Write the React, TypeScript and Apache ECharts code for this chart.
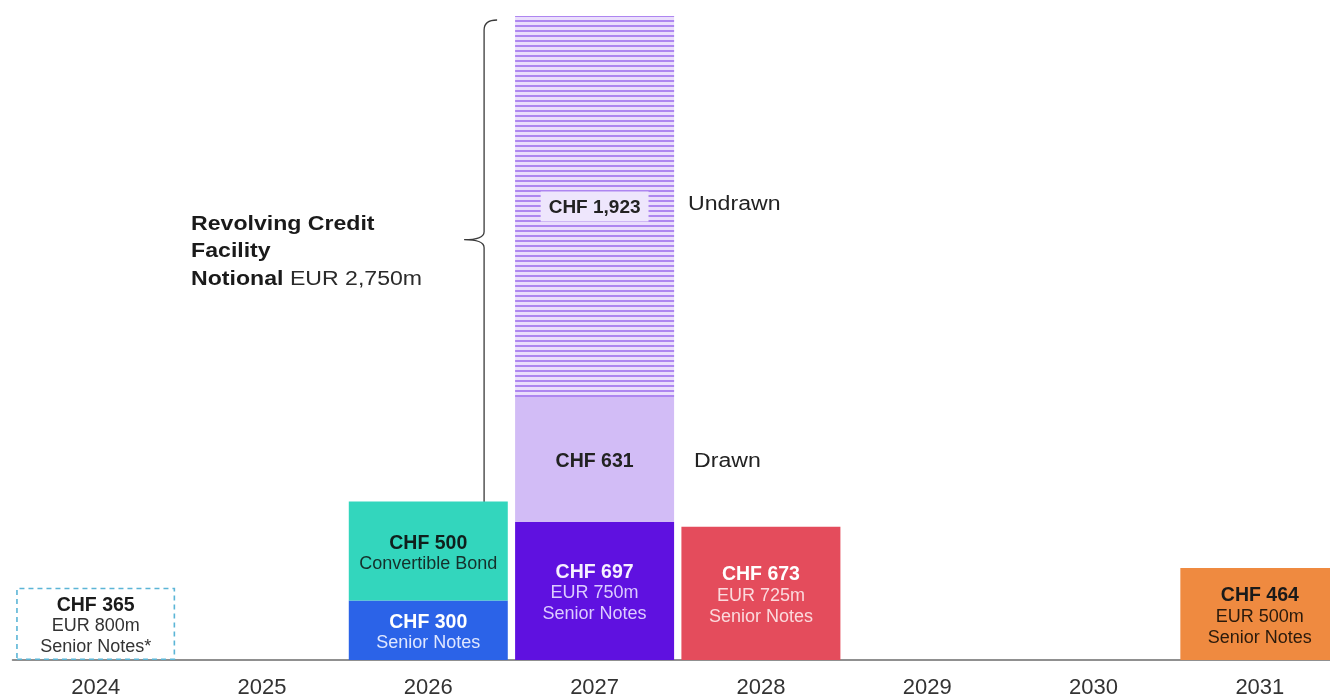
import React, { useEffect, useRef } from "react";
import * as echarts from "echarts";

const years = ["2024", "2025", "2026", "2027", "2028", "2029", "2030", "2031"];
const seniorNotes = [365, null, 300, 697, 673, null, null, 464];
const secondTier = [null, null, 500, 631, null, null, null, null];
const rcfUndrawn = [null, null, null, 1923, null, null, null, null];

const seniorColors = ["rgba(0,0,0,0)", null, "#2B63E8", "#5F11E0", "#E44C5C", null, null, "#EF8A40"];
const secondColors = [null, null, "#33D6BD", "#D2BCF6", null, null, null, null];

const seniorLabels = [
  ["CHF 365", "EUR 800m", "Senior Notes*"],
  null,
  ["CHF 300", "Senior Notes"],
  ["CHF 697", "EUR 750m", "Senior Notes"],
  ["CHF 673", "EUR 725m", "Senior Notes"],
  null,
  null,
  ["CHF 464", "EUR 500m", "Senior Notes"],
];
const seniorLabelColors = [
  ["#1a1a1a", "#333333"],
  null,
  ["#ffffff", "#dfe7ff"],
  ["#f6f0ff", "#dccbff"],
  ["#ffffff", "#fbdadd"],
  null,
  null,
  ["#1a1a1a", "#2a1a0c"],
];
const secondLabels = [null, null, ["CHF 500", "Convertible Bond"], ["CHF 631"], null, null, null, null];
const secondLabelColors = [null, null, ["#0f1f1c", "#15302b"], ["#222222", "#222222"], null, null, null, null];
const undrawnLabel = "CHF 1,923";
const rcfTitle = ["Revolving Credit", "Facility", "Notional", " EUR 2,750m"];
const sideLabels = ["Undrawn", "Drawn"];

const FONT = "'Liberation Sans', Arial, Helvetica, sans-serif";

function buildLabel(lines: string[] | null, colors: string[] | null) {
  if (!lines || !colors) return { show: false };
  const parts = lines.map((l, i) => (i === 0 ? `{a|${l}}` : `{b|${l}}`));
  return {
    show: true,
    position: "inside",
    offset: [0, 1],
    formatter: parts.join("\n"),
    rich: {
      a: { fontFamily: FONT, fontSize: 19.5, fontWeight: "bold", color: colors[0], lineHeight: 22 },
      b: { fontFamily: FONT, fontSize: 18, color: colors[1], lineHeight: 21 },
    },
  };
}

export default function App() {
  const ref = useRef<HTMLDivElement>(null);
  useEffect(() => {
    document.body.style.margin = "0";
    const el = ref.current!;
    const chart = echarts.init(el, null, { renderer: "svg" });
    const total = (seniorNotes[3] as number) + (secondTier[3] as number) + (rcfUndrawn[3] as number);
    const barW = 159;

    const seniorData = seniorNotes.map((v, i) => {
      if (v == null) return null;
      const item: any = {
        value: v,
        itemStyle: { color: seniorColors[i] },
        label: buildLabel(seniorLabels[i], seniorLabelColors[i]),
      };
      if (i === 0) {
        item.itemStyle = {
          color: "rgba(255,255,255,0)",
          borderColor: "#5BB5D6",
          borderWidth: 1.6,
          borderType: [5, 4],
        };
      }
      return item;
    });
    const secondData = secondTier.map((v, i) =>
      v == null
        ? null
        : { value: v, itemStyle: { color: secondColors[i] }, label: buildLabel(secondLabels[i], secondLabelColors[i]) }
    );
    const undrawnData = rcfUndrawn.map((v) =>
      v == null
        ? null
        : {
            value: v,
            itemStyle: {
              color: "#EADEFC",
              decal: {
                symbol: "rect",
                symbolSize: 1,
                color: "#AE86F0",
                dashArrayX: [1, 0],
                dashArrayY: [2, 3],
                rotation: 0,
              },
            },
            label: {
              show: true,
              position: "inside",
              formatter: undrawnLabel,
              fontFamily: FONT,
              fontSize: 19,
              fontWeight: "bold",
              color: "#222",
              backgroundColor: "#EEE6FC",
              padding: [6, 8, 5, 8],
            },
          }
    );

    const option: any = {
      animation: false,
      grid: { left: 12.5, right: 0, top: 16, bottom: 36 },
      xAxis: {
        type: "category",
        data: years,
        axisLine: { show: true, lineStyle: { color: "#6b6b6b", width: 1.5 } },
        axisTick: { show: false },
        axisLabel: { fontFamily: FONT, fontSize: 22, color: "#333", margin: 15 },
      },
      yAxis: { type: "value", min: 0, max: total, show: false, splitLine: { show: false } },
      series: [
        { name: "Senior Notes", type: "bar", stack: "d", barWidth: barW, data: seniorData },
        { name: "Convertible / RCF Drawn", type: "bar", stack: "d", barWidth: barW, data: secondData },
        { name: "RCF Undrawn", type: "bar", stack: "d", barWidth: barW, data: undrawnData },
      ],
    };
    chart.setOption(option);

    // annotations positioned from the axes
    const [cx, yTop] = chart.convertToPixel({ gridIndex: 0 }, [3, total]) as number[];
    const [, yDrawnBottom] = chart.convertToPixel({ gridIndex: 0 }, [3, seniorNotes[3] as number]) as number[];
    const [, yDrawnTop] = chart.convertToPixel({ gridIndex: 0 }, [3, (seniorNotes[3] as number) + (secondTier[3] as number)]) as number[];
    const barLeft = cx - barW / 2;
    const barRight = cx + barW / 2;
    const bx = barLeft - 31;
    const t = yTop + 4;
    const b = yDrawnBottom - 5;
    const m = t + 0.442 * (b - t);
    const d = `M${bx + 13},${t} Q${bx},${t} ${bx},${t + 10} L${bx},${m - 8} Q${bx},${m} ${bx - 20},${m} Q${bx},${m} ${bx},${m + 8} L${bx},${b - 10} Q${bx},${b} ${bx + 13},${b}`;
    echarts.graphic.registerShape("rcfBrace", (echarts.graphic as any).extendPath(d, {}));

    const textX = bx - 293;
    const sx = 1.1;
    chart.setOption({
      graphic: [
        {
          type: "rcfBrace",
          x: 0,
          y: 0,
          style: { fill: "none", stroke: "#3a3a3a", lineWidth: 1.3 },
        },
        {
          type: "text",
          x: textX,
          y: m - 17,
          scaleX: sx,
          style: { text: rcfTitle[0], font: `bold 21px ${FONT}`, fill: "#1a1a1a", verticalAlign: "middle" },
        },
        {
          type: "text",
          x: textX,
          y: m + 10,
          scaleX: sx,
          style: { text: rcfTitle[1], font: `bold 21px ${FONT}`, fill: "#1a1a1a", verticalAlign: "middle" },
        },
        {
          type: "text",
          x: textX,
          y: m + 38,
          scaleX: sx,
          style: {
            text: `{b|${rcfTitle[2]}}{r|${rcfTitle[3]}}`,
            verticalAlign: "middle",
            rich: {
              b: { fontFamily: FONT, fontSize: 21, fontWeight: "bold", fill: "#1a1a1a", color: "#1a1a1a" },
              r: { fontFamily: FONT, fontSize: 21, fill: "#2a2a2a", color: "#2a2a2a" },
            },
          },
        },
        {
          type: "text",
          x: barRight + 14,
          y: (yTop + yDrawnTop) / 2 - 4,
          scaleX: sx,
          style: { text: sideLabels[0], font: `21px ${FONT}`, fill: "#222", verticalAlign: "middle" },
        },
        {
          type: "text",
          x: barRight + 20,
          y: (yDrawnTop + yDrawnBottom) / 2,
          scaleX: sx,
          style: { text: sideLabels[1], font: `21px ${FONT}`, fill: "#222", verticalAlign: "middle" },
        },
      ],
    });

    return () => chart.dispose();
  }, []);
  return <div ref={ref} style={{ position: "fixed", left: 0, top: 0, width: 1343, height: 697 }} />;
}
